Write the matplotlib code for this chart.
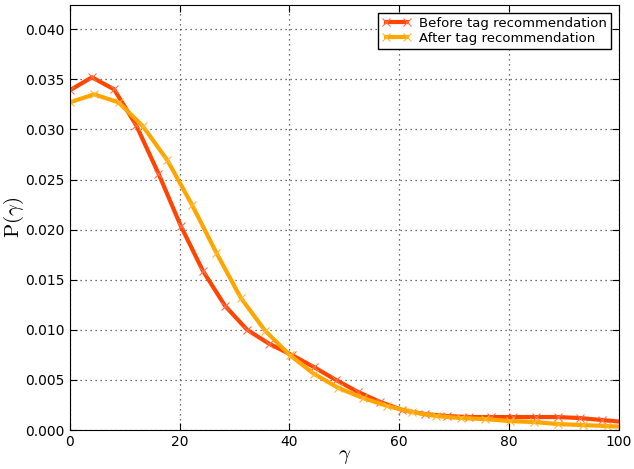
import numpy as np
import matplotlib
matplotlib.use('Agg')
import matplotlib.pyplot as plt

plt.rcParams['mathtext.fontset'] = 'cm'

# before tag recommendation
gamma_before = np.arange(26) * 4.04
p_before = [0.0339, 0.0352, 0.0340, 0.0304, 0.0256, 0.0204, 0.0159, 0.0124, 0.0100,
            0.0086, 0.0075, 0.0063, 0.0050, 0.0038, 0.0028, 0.0020, 0.0016, 0.0014,
            0.0013, 0.0013, 0.0013, 0.0013, 0.0013, 0.0012, 0.0010, 0.0008]

# after tag recommendation
gamma_after = np.arange(24) * 4.45
p_after = [0.0327, 0.0335, 0.0327, 0.0303, 0.0269, 0.0225, 0.0177, 0.0132, 0.0099,
           0.0075, 0.0056, 0.0042, 0.0032, 0.0024, 0.0018, 0.0014, 0.0012, 0.0011,
           0.0009, 0.0008, 0.0006, 0.0005, 0.0004, 0.0003]

fig = plt.figure(figsize=(6.34, 4.69), dpi=100)
ax = fig.add_axes([0.110, 0.083, 0.866, 0.906])

ax.plot(gamma_before, p_before, color='#FF4500', lw=3, marker='x', ms=6, mew=0.8,
        mec='#FF7050', label='Before tag recommendation')
ax.plot(gamma_after, p_after, color='#FFA500', lw=3, marker='x', ms=6, mew=0.8,
        mec='#FFB833', label='After tag recommendation')

ax.set_xlim(0, 100)
ax.set_ylim(0, 0.0424)
ax.set_yticks(np.arange(0, 0.0401, 0.005))
ax.set_yticklabels(['%.3f' % v for v in np.arange(0, 0.0401, 0.005)])
ax.tick_params(direction='in', top=True, right=True, labelsize=10, length=5)
ax.grid(True, color='#444444', linestyle=(0, (1, 3)), linewidth=0.9)

ax.set_xlabel(r'$\gamma$', fontsize=15, labelpad=-2)
ax.set_ylabel(r'$\mathrm{P}(\gamma)$', fontsize=15)
ax.yaxis.set_label_coords(-0.08, 0.5)

leg = ax.legend(loc='upper right', fontsize=9.5, fancybox=False, framealpha=1,
                borderaxespad=0.6, handlelength=2.2, borderpad=0.3, labelspacing=0.15,
                numpoints=2, handletextpad=0.6)
leg.get_frame().set_edgecolor('black')

fig.savefig('out.png', dpi=100)
